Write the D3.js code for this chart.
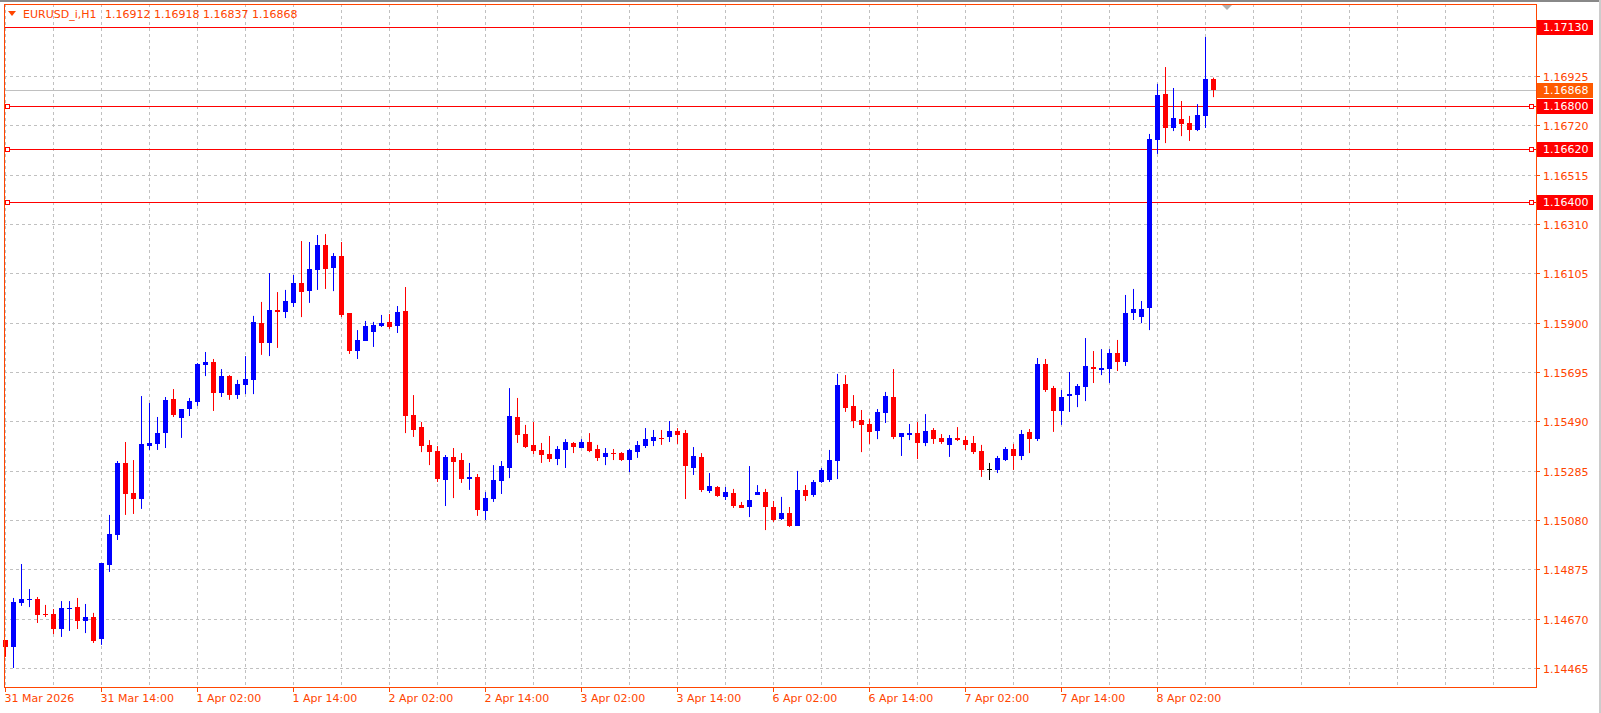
<!DOCTYPE html>
<html><head><meta charset="utf-8">
<script src="https://cdn.jsdelivr.net/npm/d3@7"></script>
<style>body{margin:0;background:#fff}svg{display:block}text{font-family:"DejaVu Sans",sans-serif;font-size:11px}</style>
</head><body><svg id="c" width="1601" height="713"></svg>
<script>
const open=[1.14581,1.14552,1.14735,1.14748,1.14752,1.14689,1.14689,1.14627,1.14710,1.14718,1.14660,1.14677,1.14585,1.14893,1.15018,1.15317,1.15192,1.15167,1.15387,1.15396,1.15441,1.15583,1.15504,1.15541,1.15570,1.15724,1.15736,1.15608,1.15678,1.15599,1.15641,1.15662,1.15898,1.15815,1.15952,1.15944,1.15982,1.16065,1.16031,1.16119,1.16223,1.16127,1.16177,1.15940,1.15782,1.15824,1.15861,1.15886,1.15903,1.15886,1.15948,1.15516,1.15466,1.15392,1.15367,1.15246,1.15342,1.15329,1.15250,1.15259,1.15117,1.15167,1.15242,1.15296,1.15508,1.15437,1.15392,1.15371,1.15354,1.15333,1.15371,1.15400,1.15379,1.15404,1.15375,1.15342,1.15358,1.15358,1.15329,1.15362,1.15387,1.15408,1.15421,1.15425,1.15450,1.15441,1.15296,1.15342,1.15200,1.15217,1.15176,1.15192,1.15142,1.15134,1.15184,1.15196,1.15134,1.15084,1.15109,1.15055,1.15205,1.15184,1.15238,1.15246,1.15325,1.15645,1.15554,1.15495,1.15479,1.15450,1.15525,1.15591,1.15425,1.15433,1.15441,1.15400,1.15454,1.15421,1.15392,1.15421,1.15412,1.15400,1.15367,1.15292,1.15288,1.15329,1.15375,1.15346,1.15446,1.15416,1.15728,1.15628,1.15533,1.15595,1.15599,1.15633,1.15716,1.15703,1.15707,1.15774,1.15736,1.15940,1.15923,1.15961,1.16659,1.16850,1.16709,1.16746,1.16729,1.16700,1.16759,1.16912];
const high=[1.14581,1.14756,1.14897,1.14793,1.14760,1.14727,1.14710,1.14743,1.14743,1.14756,1.14731,1.14694,1.14901,1.15101,1.15325,1.15404,1.15329,1.15595,1.15566,1.15508,1.15591,1.15624,1.15541,1.15587,1.15732,1.15778,1.15749,1.15707,1.15682,1.15662,1.15761,1.15928,1.15986,1.16106,1.16027,1.16036,1.16098,1.16239,1.16235,1.16264,1.16268,1.16189,1.16235,1.15940,1.15869,1.15907,1.15903,1.15932,1.15936,1.15969,1.16048,1.15599,1.15487,1.15412,1.15387,1.15350,1.15379,1.15358,1.15317,1.15271,1.15196,1.15308,1.15325,1.15628,1.15587,1.15475,1.15487,1.15400,1.15429,1.15387,1.15416,1.15404,1.15416,1.15441,1.15392,1.15379,1.15375,1.15362,1.15375,1.15408,1.15462,1.15454,1.15454,1.15491,1.15462,1.15454,1.15383,1.15358,1.15275,1.15221,1.15217,1.15209,1.15155,1.15304,1.15225,1.15209,1.15159,1.15176,1.15134,1.15284,1.15225,1.15246,1.15296,1.15371,1.15687,1.15682,1.15599,1.15537,1.15500,1.15541,1.15612,1.15707,1.15441,1.15479,1.15487,1.15520,1.15462,1.15437,1.15433,1.15466,1.15429,1.15429,1.15392,1.15317,1.15346,1.15383,1.15396,1.15454,1.15458,1.15753,1.15749,1.15637,1.15620,1.15695,1.15645,1.15836,1.15782,1.15790,1.15790,1.15828,1.16015,1.16040,1.15990,1.16684,1.16892,1.16962,1.16875,1.16821,1.16759,1.16808,1.17087,1.16918];
const low=[1.14511,1.14465,1.14723,1.14718,1.14652,1.14677,1.14606,1.14594,1.14619,1.14627,1.14610,1.14569,1.14561,1.14864,1.14997,1.15101,1.15105,1.15126,1.15371,1.15371,1.15379,1.15508,1.15421,1.15512,1.15554,1.15678,1.15533,1.15591,1.15579,1.15583,1.15603,1.15603,1.15766,1.15761,1.15795,1.15919,1.15965,1.15923,1.15982,1.16036,1.16040,1.16031,1.15923,1.15770,1.15749,1.15824,1.15799,1.15882,1.15874,1.15857,1.15441,1.15425,1.15362,1.15308,1.15238,1.15138,1.15171,1.15234,1.15205,1.15097,1.15080,1.15155,1.15188,1.15254,1.15400,1.15379,1.15354,1.15317,1.15321,1.15308,1.15296,1.15358,1.15379,1.15362,1.15325,1.15308,1.15329,1.15325,1.15279,1.15338,1.15379,1.15387,1.15392,1.15404,1.15396,1.15167,1.15267,1.15196,1.15192,1.15176,1.15163,1.15130,1.15130,1.15092,1.15184,1.15038,1.15072,1.15080,1.15051,1.15055,1.15159,1.15176,1.15234,1.15238,1.15250,1.15529,1.15462,1.15362,1.15396,1.15416,1.15483,1.15416,1.15346,1.15412,1.15333,1.15387,1.15396,1.15396,1.15342,1.15408,1.15371,1.15354,1.15259,1.15246,1.15275,1.15325,1.15288,1.15329,1.15358,1.15408,1.15612,1.15446,1.15475,1.15529,1.15549,1.15574,1.15649,1.15682,1.15649,1.15699,1.15720,1.15911,1.15898,1.15869,1.16601,1.16646,1.16696,1.16675,1.16655,1.16696,1.16709,1.16837];
const close=[1.14552,1.14739,1.14752,1.14752,1.14685,1.14685,1.14627,1.14714,1.14714,1.14660,1.14677,1.14577,1.14901,1.15022,1.15317,1.15188,1.15167,1.15396,1.15400,1.15441,1.15579,1.15516,1.15541,1.15574,1.15728,1.15736,1.15608,1.15678,1.15599,1.15645,1.15666,1.15903,1.15815,1.15952,1.15944,1.15990,1.16065,1.16027,1.16123,1.16223,1.16123,1.16177,1.15932,1.15782,1.15828,1.15886,1.15890,1.15898,1.15882,1.15944,1.15512,1.15454,1.15387,1.15362,1.15250,1.15342,1.15321,1.15250,1.15259,1.15121,1.15171,1.15246,1.15304,1.15512,1.15433,1.15383,1.15367,1.15350,1.15333,1.15375,1.15404,1.15383,1.15404,1.15367,1.15338,1.15358,1.15354,1.15329,1.15371,1.15392,1.15416,1.15425,1.15416,1.15450,1.15433,1.15304,1.15346,1.15205,1.15221,1.15180,1.15196,1.15138,1.15130,1.15163,1.15196,1.15134,1.15080,1.15109,1.15055,1.15205,1.15180,1.15238,1.15288,1.15329,1.15641,1.15545,1.15491,1.15475,1.15446,1.15529,1.15595,1.15425,1.15441,1.15441,1.15400,1.15450,1.15416,1.15404,1.15421,1.15412,1.15392,1.15362,1.15288,1.15292,1.15338,1.15375,1.15346,1.15437,1.15416,1.15728,1.15620,1.15533,1.15591,1.15603,1.15637,1.15720,1.15707,1.15712,1.15774,1.15736,1.15940,1.15957,1.15957,1.16663,1.16846,1.16709,1.16750,1.16725,1.16700,1.16763,1.16912,1.16868];
const priceTicks=["1.14465","1.14670","1.14875","1.15080","1.15285","1.15490","1.15695","1.15900","1.16105","1.16310","1.16515","1.16720","1.16925"];
const timeLabels=["31 Mar 2026","31 Mar 14:00","1 Apr 02:00","1 Apr 14:00","2 Apr 02:00","2 Apr 14:00","3 Apr 02:00","3 Apr 14:00","6 Apr 02:00","6 Apr 14:00","7 Apr 02:00","7 Apr 14:00","8 Apr 02:00"];
const levels=[1.17130,1.16800,1.16620,1.16400];
const levelMarked=[false,true,true,true];
const bid=1.16868;
const header=["EURUSD_i,H1","1.16912 1.16918 1.16837 1.16868"];

const svg=d3.select("#c");
const L=4,R=1536,T=4,B=687;
const y=d3.scaleLinear().domain([1.14386,1.17224]).range([B,T]);
const x=d3.scaleLinear().domain([0,151]).range([5,1213]);
const OR="#ff4500";
svg.append("rect").attr("x",0).attr("y",0).attr("width",1601).attr("height",2).attr("fill","#888");
svg.append("rect").attr("x",1599).attr("y",0).attr("width",2).attr("height",713).attr("fill","#ccc");
const g=svg.append("g");
// grid
priceTicks.forEach(t=>{const yy=Math.round(y(+t))+0.5;
 g.append("line").attr("x1",L).attr("x2",R).attr("y1",yy).attr("y2",yy).attr("stroke","#c0c0c0").attr("stroke-dasharray","3,3");
 g.append("line").attr("x1",R).attr("x2",R+4).attr("y1",yy).attr("y2",yy).attr("stroke",OR);
 g.append("text").attr("x",R+7).attr("y",yy+4).attr("fill",OR).text(t);});
for(let i=0;x(i)<R;i+=6){const xx=Math.round(x(i))+0.5;
 g.append("line").attr("x1",xx).attr("x2",xx).attr("y1",T).attr("y2",B).attr("stroke","#c0c0c0").attr("stroke-dasharray","3,3");}
timeLabels.forEach((t,k)=>{const xx=Math.round(x(k*12))+0.5;
 g.append("line").attr("x1",xx).attr("x2",xx).attr("y1",B).attr("y2",B+5).attr("stroke",OR);
 g.append("text").attr("x",xx-1).attr("y",702).attr("fill",OR).text(t);});
// bid line
g.append("line").attr("x1",L).attr("x2",R).attr("y1",Math.round(y(bid))+0.5).attr("y2",Math.round(y(bid))+0.5).attr("stroke","#c0c0c0");
// levels
levels.forEach((v,i)=>{const yy=Math.round(y(v))+0.5;
 g.append("line").attr("x1",L).attr("x2",R).attr("y1",yy).attr("y2",yy).attr("stroke","#ff0000");
 if(levelMarked[i]){[L+3.5,R-4.5].forEach(cx=>g.append("rect").attr("x",cx-2).attr("y",yy-2).attr("width",4).attr("height",4).attr("fill","#fff").attr("stroke","#ff0000"));}
});
// candles
const data=open.map((o,i)=>({i,o,h:high[i],l:low[i],c:close[i]}));
const cg=g.append("g");
data.forEach(d=>{const col=d.c>d.o?"#0000ff":d.c<d.o?"#ff0000":"#000000";
 const xx=Math.round(x(d.i))+0.5;
 cg.append("line").attr("x1",xx).attr("x2",xx).attr("y1",y(d.h)).attr("y2",y(d.l)).attr("stroke",col);
 const y1=Math.round(y(Math.max(d.o,d.c))),y2=Math.round(y(Math.min(d.o,d.c)));
 if(y2-y1<1) cg.append("line").attr("x1",xx-2.5).attr("x2",xx+2.5).attr("y1",y1+0.5).attr("y2",y1+0.5).attr("stroke",col);
 else cg.append("rect").attr("x",Math.round(x(d.i))-2).attr("y",y1).attr("width",5).attr("height",y2-y1).attr("fill",col);
});
// level labels
levels.forEach(v=>{const yy=Math.round(y(v));
 g.append("rect").attr("x",R+1).attr("y",yy-7).attr("width",56).attr("height",15).attr("fill","#ff0000");
 g.append("text").attr("x",R+7).attr("y",yy+4).attr("fill","#fff").text(v.toFixed(5));});
{const yy=Math.round(y(bid));
 g.append("rect").attr("x",R+1).attr("y",yy-7).attr("width",56).attr("height",15).attr("fill","#ff5a00");
 g.append("text").attr("x",R+7).attr("y",yy+4).attr("fill","#fff").text(bid.toFixed(5));}
// frame
svg.append("rect").attr("x",L+0.5).attr("y",T+0.5).attr("width",R-L).attr("height",B-T).attr("fill","none").attr("stroke",OR);
// shift marker
svg.append("path").attr("d","M1222,5 L1232,5 L1227,10 Z").attr("fill","#b0b0b0");
// header
svg.append("path").attr("d","M8,11 L16,11 L12,16 Z").attr("fill",OR);
svg.append("text").attr("x",23).attr("y",18).attr("fill",OR).text(header[0]);
svg.append("text").attr("x",105).attr("y",18).attr("fill",OR).text(header[1]);
</script></body></html>
